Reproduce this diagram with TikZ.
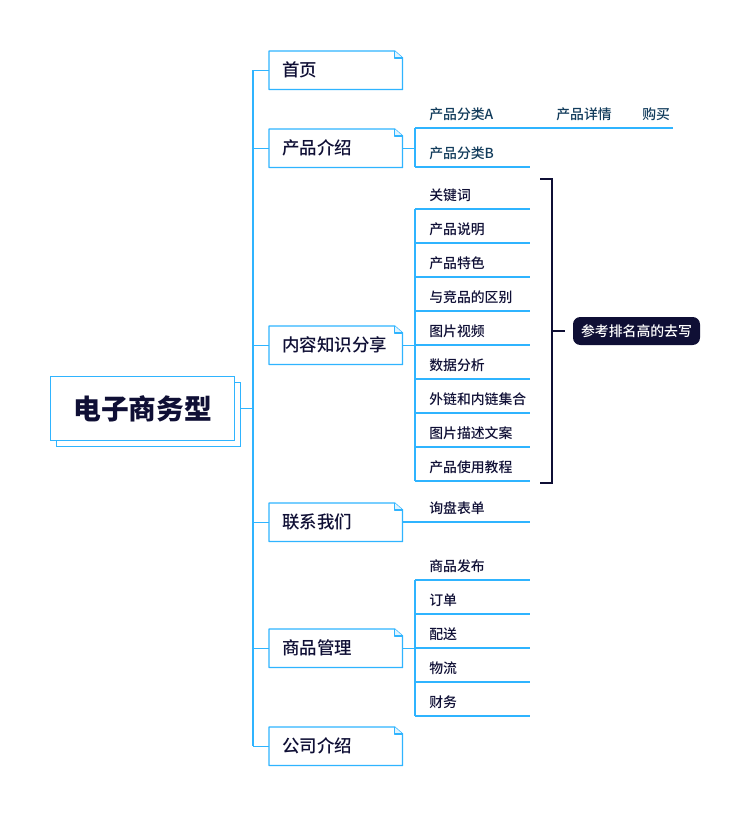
\documentclass[tikz,border=0pt]{standalone}
\usepackage{fontspec}
\setmainfont{Noto Sans CJK SC}
\newfontfamily\medfont{Noto Sans CJK SC Medium}
\usetikzlibrary{calc}
\definecolor{lineblue}{HTML}{2FB4FF}
\definecolor{ink}{HTML}{0F0F35}
\definecolor{teal}{HTML}{123C5C}
\tikzset{
  px/.style={x=0.75pt,y=-0.75pt},
  link/.style={draw=lineblue,line width=1.05pt},
  branch/.style={minimum width=99.75pt,minimum height=28.5pt,inner sep=0pt,
    text width=99.75pt,align=left,font=\fontsize{13.1pt}{15pt}\medfont,text=ink,anchor=north west,
    text height=10.6pt,text depth=2pt},
  leaf/.style={anchor=south west,inner xsep=10.5pt,inner ysep=0pt,minimum width=86pt,
    align=left,text width=65pt,font=\fontsize{10.4pt}{12pt}\medfont,text=ink,
    text height=8.6pt,text depth=6.2pt},
  tealleaf/.style={leaf,text=teal},
  toplabel/.style={anchor=west,inner sep=0pt,font=\fontsize{10.4pt}{12pt}\medfont,text=teal},
  bracketline/.style={draw=ink,line width=0.9pt},
  pill/.style={fill=ink,text=white,rounded corners=5.5pt,minimum width=95.25pt,minimum height=21pt,
    inner sep=0pt,font=\fontsize{10.4pt}{12pt}\medfont},
}
\newcommand{\foldbox}[1]{%
  \draw[link,fill=white,line join=round] (#1.north west) -- ([xshift=-6pt]#1.north east) -- ([yshift=-5.25pt]#1.north east)
    -- (#1.south east) -- (#1.south west) -- cycle;
  \draw[link,fill=lineblue!15,line join=round] ([xshift=-6pt]#1.north east) -- ([yshift=-5.25pt,xshift=-6pt]#1.north east) -- ([yshift=-5.25pt]#1.north east);
}
\begin{document}
\begin{tikzpicture}[px]
\useasboundingbox (0,0) rectangle (750,816);
\fill[white] (0,0) rectangle (750,816);

% root
\node[draw=lineblue,line width=1.05pt,fill=white,minimum width=138pt,minimum height=48pt,inner sep=0pt,anchor=north west] (rootback) at (56,382) {};
\node[draw=lineblue,line width=1.05pt,fill=white,minimum width=138pt,minimum height=48pt,inner sep=0pt,anchor=north west,
  font=\fontsize{20.8pt}{24pt}\selectfont\bfseries,text=ink] (root) at (50,376) {电子商务型};

% branches
\node[branch] (b1) at (269,51) {};
\node[branch] (b2) at (269,129) {};
\node[branch] (b3) at (269,326) {};
\node[branch] (b4) at (269,503) {};
\node[branch] (b5) at (269,629) {};
\node[branch] (b6) at (269,727) {};
\foreach \n in {b1,b2,b3,b4,b5,b6}{\foldbox{\n}}
\node[branch,yshift=-0.7pt] at (b1.north west) {\hspace*{9.8pt}首页};
\node[branch,yshift=-0.7pt] at (b2.north west) {\hspace*{9.8pt}产品介绍};
\node[branch,yshift=-0.7pt] at (b3.north west) {\hspace*{9.8pt}内容知识分享};
\node[branch,yshift=-0.7pt] at (b4.north west) {\hspace*{9.8pt}联系我们};
\node[branch,yshift=-0.7pt] at (b5.north west) {\hspace*{9.8pt}商品管理};
\node[branch,yshift=-0.7pt] at (b6.north west) {\hspace*{9.8pt}公司介绍};

% stem
\coordinate (stem) at (253,408);
\draw[link] (stem |- b1.west) -- (stem |- b6.west);
\draw[link] (rootback.east |- root.east) -- (stem |- root.east);
\foreach \n in {b1,b2,b3,b4,b5,b6}{\draw[link] (stem |- \n.west) -- (\n.west);}

% product
\node[tealleaf] (pa) at (415,128) {产品分类A};
\node[tealleaf] (pb) at (415,167) {产品分类B};
\node[toplabel] (pd) at (556,114) {产品详情};
\node[toplabel] (pe) at (642,114) {购买};
\coordinate (pend) at (673,128);
\draw[link] (pa.south west) -- (pend);
\draw[link] (pb.south west) -- (pb.south east);
\draw[link] (pa.south west) -- (pb.south west);
\draw[link] (b2.east) -- (b2.east -| pa.west);

% content
\foreach \n/\y/\t in {k1/209/关键词,k2/243/产品说明,k3/277/产品特色,k4/311/与竞品的区别,k5/345/图片视频,k6/379/数据分析,k7/413/外链和内链集合,k8/447/图片描述文案,k9/481/产品使用教程}{
  \node[leaf] (\n) at (415,\y) {\t};
  \draw[link] (\n.south west) -- (\n.south east);
}
\draw[link] (k1.south west) -- (k9.south west);
\draw[link] (b3.east) -- (b3.east -| k1.west);

% bracket
\node[pill] (note) at (636.5,331) {参考排名高的去写};
\coordinate (bt) at (540,179);
\coordinate (bb) at (540,483);
\coordinate (bm) at (552,331);
\draw[bracketline] (bt) -- (bm |- bt) -- (bm |- bb) -- (bb);
\draw[bracketline] (bm) -- ($(note.west)+(-8,0)$);

% contact
\node[leaf] (c1) at (415,522) {询盘表单};
\draw[link] (b4.east |- c1.south) -- (c1.south east);

% goods
\foreach \n/\y/\t in {g1/580/商品发布,g2/614/订单,g3/648/配送,g4/682/物流,g5/716/财务}{
  \node[leaf] (\n) at (415,\y) {\t};
  \draw[link] (\n.south west) -- (\n.south east);
}
\draw[link] (g1.south west) -- (g5.south west);
\draw[link] (b5.east) -- (b5.east -| g1.west);
\end{tikzpicture}
\end{document}
